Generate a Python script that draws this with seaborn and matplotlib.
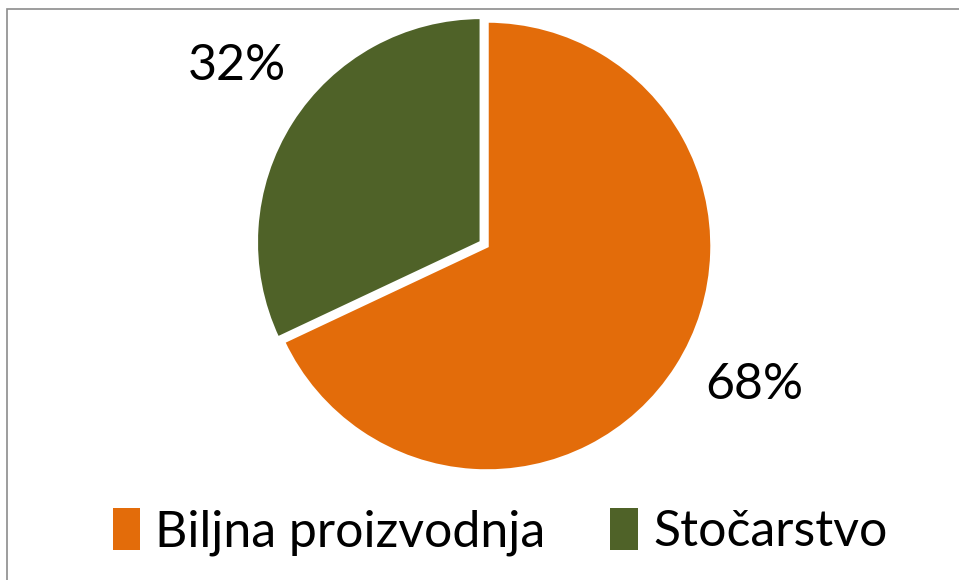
import matplotlib
matplotlib.use("Agg")
import numpy as np
import matplotlib.pyplot as plt
import seaborn as sns
from matplotlib.patches import Rectangle, Patch

categories = ["Biljna proizvodnja", "Stočarstvo"]
values = [68, 32]
colors = ["#E36C0A", "#4F6228"]

sns.set_theme(style="white")
plt.rcParams['font.family'] = ['Lato', 'DejaVu Sans']
plt.rcParams['text.color'] = 'black'

fig = plt.figure(figsize=(9.59, 5.80), dpi=100)
W, H = 959, 580
cx, cy, r = 487, 246, 225
ax = fig.add_axes([(cx - r) / W, (H - cy - r) / H, 2 * r / W, 2 * r / H])

palette = sns.color_palette(colors)
wedges, texts, autotexts = ax.pie(
    values, colors=palette, startangle=90, counterclock=False,
    explode=[0, 0.03],
    autopct=lambda p: f"{p:.0f}%", pctdistance=1.34,
    wedgeprops=dict(edgecolor="white", linewidth=2.5),
    textprops=dict(fontsize=36, color="black"))

# nudge label angles slightly (as in the reference layout)
for t, w, dang in zip(autotexts, wedges, [5.0, -3.5]):
    x, y = t.get_position()
    c = np.array(w.center)
    v = np.array([x, y]) - c
    a = np.deg2rad(dang)
    rot = np.array([[np.cos(a), -np.sin(a)], [np.sin(a), np.cos(a)]])
    t.set_position(tuple(c + rot @ v))

ax.set_aspect("equal")
ax.set_xlim(-1.0, 1.0)
ax.set_ylim(-1.0, 1.0)
ax.axis("off")

handles = [Patch(facecolor=c, edgecolor="none") for c in palette]
leg = fig.legend(handles, categories, loc="center", bbox_to_anchor=(500 / W, 1 - 532 / H),
                 ncol=2, frameon=False, fontsize=36, handlelength=0.55, handleheight=0.9,
                 handletextpad=0.3, columnspacing=1.3)
for t in leg.get_texts():
    t.set_color("black")

fig.patches.append(Rectangle((7 / W, -0.1), 1.2, 1 - 9 / H + 0.1,
                             transform=fig.transFigure, fill=False,
                             edgecolor="#8c8c8c", linewidth=1.2))

fig.savefig("out.png", dpi=100)
